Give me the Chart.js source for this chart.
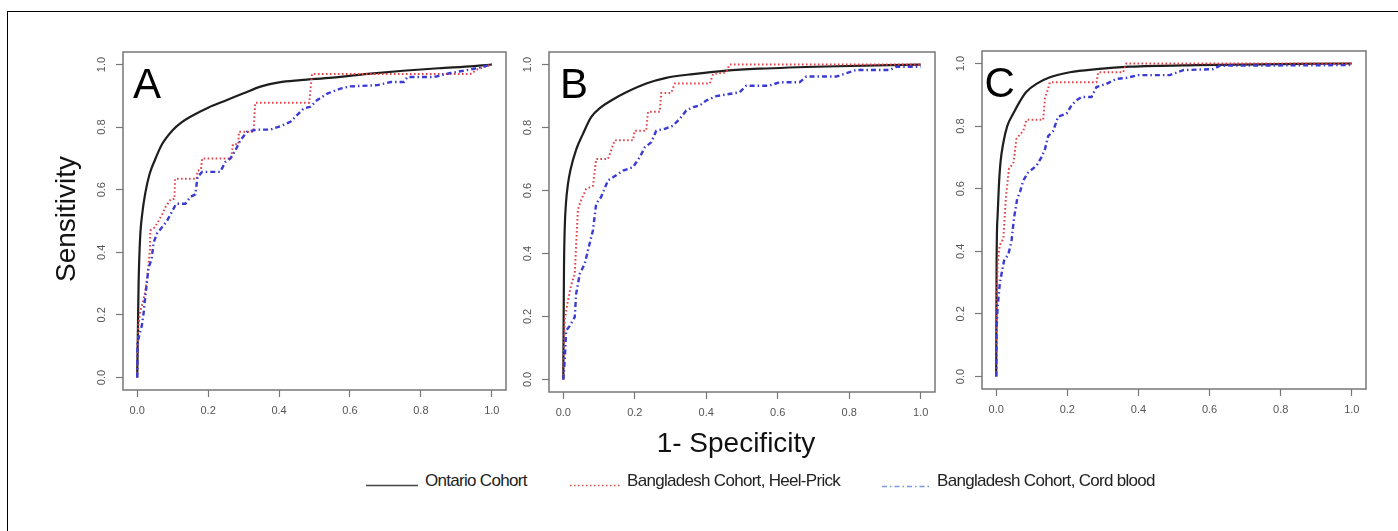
<!DOCTYPE html>
<html>
<head>
<meta charset="utf-8">
<script src="https://cdn.jsdelivr.net/npm/chart.js@4.4.1/dist/chart.umd.min.js"></script>
<style>
  body { margin: 0; background: #fff; font-family: 'Liberation Sans', Arial, sans-serif; }
  #wrap { position: relative; width: 1398px; height: 531px; overflow: hidden; }
  #frame { position: absolute; left: 7px; top: 11px; width: 1500px; height: 600px;
           border-top: 1.5px solid #000; border-left: 1.5px solid #000; }
  canvas { position: absolute; }
  .axt { position: absolute; font-size: 28px; line-height: 28px; color: #111; white-space: nowrap; }
  .leg { position: absolute; top: 472px; font-size: 17px; line-height: 17px; letter-spacing: -0.7px;
         color: #222; white-space: nowrap; }
  svg.ls { position: absolute; top: 480px; }
</style>
</head>
<body>
<div id="wrap">
  <div id="frame"></div>
  <canvas id="panelA"></canvas>
  <canvas id="panelB"></canvas>
  <canvas id="panelC"></canvas>

  <div class="axt" style="left:66px; top:219px; transform: translate(-50%,-50%) rotate(-90deg);">Sensitivity</div>
  <div class="axt" style="left:736px; top:429px; transform: translateX(-50%);">1- Specificity</div>

  <svg class="ls" style="left:366px" width="54" height="12"><line x1="0" y1="5.5" x2="52" y2="5.5" stroke="#444" stroke-width="1.6"/></svg>
  <div class="leg" style="left:425px">Ontario Cohort</div>
  <svg class="ls" style="left:570px" width="54" height="12"><line x1="0" y1="5.5" x2="52" y2="5.5" stroke="#d9534f" stroke-width="1.6" stroke-dasharray="1.5 2.5"/></svg>
  <div class="leg" style="left:627px">Bangladesh Cohort, Heel-Prick</div>
  <svg class="ls" style="left:882px" width="54" height="12"><line x1="0" y1="6.5" x2="50" y2="6.5" stroke="#7d96d8" stroke-width="1.4" stroke-dasharray="5 3 1.5 3"/></svg>
  <div class="leg" style="left:937px">Bangladesh Cohort, Cord blood</div>
</div>

<script>
// tick labels shared by all three panels
const tickVals = [0, 0.2, 0.4, 0.6, 0.8, 1.0];
const seriesNames = ['Ontario Cohort', 'Bangladesh Cohort, Heel-Prick', 'Bangladesh Cohort, Cord blood'];

// Panel A  [1-specificity, sensitivity]
const ontarioA = [[0,0],[0.002,0.15],[0.004,0.3],[0.008,0.44],[0.015,0.53],[0.023,0.59],[0.035,0.65],[0.05,0.695],
  [0.07,0.745],[0.1,0.79],[0.125,0.815],[0.15,0.833],[0.2,0.862],[0.25,0.885],[0.3,0.908],[0.35,0.93],[0.4,0.943],
  [0.46,0.95],[0.55,0.958],[0.65,0.97],[0.75,0.98],[0.85,0.988],[0.95,0.995],[1,1]];
const heelA = [[0,0],[0.003,0.16],[0.008,0.21],[0.016,0.24],[0.022,0.27],[0.027,0.31],[0.032,0.36],[0.036,0.41],
  [0.037,0.47],[0.05,0.48],[0.06,0.50],[0.07,0.52],[0.08,0.545],[0.095,0.57],[0.105,0.57],[0.107,0.635],[0.168,0.635],
  [0.17,0.66],[0.18,0.665],[0.183,0.70],[0.265,0.70],[0.27,0.745],[0.285,0.745],[0.287,0.785],[0.328,0.785],
  [0.333,0.878],[0.485,0.878],[0.493,0.97],[0.94,0.97],[0.96,0.985],[1,1]];
const cordA = [[0,0],[0.001,0.11],[0.007,0.14],[0.013,0.165],[0.018,0.205],[0.023,0.26],[0.027,0.30],[0.032,0.35],
  [0.041,0.38],[0.046,0.43],[0.056,0.46],[0.07,0.48],[0.084,0.50],[0.098,0.53],[0.11,0.555],[0.136,0.555],[0.15,0.577],
  [0.164,0.585],[0.17,0.64],[0.183,0.657],[0.234,0.657],[0.249,0.689],[0.263,0.70],[0.277,0.726],[0.291,0.758],
  [0.31,0.785],[0.338,0.792],[0.376,0.792],[0.404,0.803],[0.432,0.817],[0.47,0.86],[0.489,0.865],[0.507,0.886],
  [0.536,0.907],[0.573,0.923],[0.60,0.93],[0.677,0.934],[0.715,0.944],[0.752,0.944],[0.762,0.96],[0.837,0.96],
  [0.884,0.973],[0.94,0.984],[1,1]];

// Panel B
const ontarioB = [[0,0],[0.001,0.2],[0.002,0.36],[0.004,0.48],[0.0075,0.56],[0.013,0.62],[0.02,0.665],[0.036,0.73],
  [0.055,0.78],[0.078,0.833],[0.106,0.865],[0.134,0.886],[0.176,0.912],[0.232,0.94],[0.288,0.958],[0.363,0.97],
  [0.456,0.981],[0.55,0.987],[0.736,0.994],[1,1]];
const heelB = [[0,0],[0.004,0.19],[0.013,0.25],[0.022,0.30],[0.032,0.335],[0.036,0.43],[0.041,0.54],[0.05,0.57],
  [0.064,0.605],[0.083,0.615],[0.092,0.70],[0.125,0.70],[0.144,0.76],[0.195,0.76],[0.2,0.79],[0.232,0.79],
  [0.237,0.85],[0.27,0.85],[0.274,0.91],[0.302,0.91],[0.312,0.94],[0.41,0.94],[0.419,0.97],[0.456,0.975],
  [0.465,1],[1,1]];
const cordB = [[0,0],[0.004,0.06],[0.008,0.155],[0.018,0.17],[0.032,0.198],[0.036,0.272],[0.046,0.335],[0.06,0.367],
  [0.069,0.41],[0.083,0.474],[0.092,0.558],[0.106,0.58],[0.125,0.632],[0.139,0.642],[0.167,0.663],[0.195,0.674],
  [0.214,0.706],[0.228,0.737],[0.246,0.753],[0.26,0.79],[0.284,0.796],[0.307,0.806],[0.326,0.828],[0.344,0.854],
  [0.363,0.865],[0.382,0.87],[0.4,0.886],[0.428,0.9],[0.456,0.905],[0.493,0.912],[0.512,0.933],[0.577,0.933],
  [0.605,0.944],[0.661,0.944],[0.68,0.962],[0.764,0.962],[0.801,0.976],[0.82,0.983],[0.913,0.983],[0.932,0.993],
  [1,0.993]];

// Panel C
const ontarioC = [[0,0],[0.001,0.36],[0.004,0.516],[0.0075,0.61],[0.012,0.684],[0.02,0.747],[0.031,0.80],[0.048,0.84],
  [0.067,0.88],[0.085,0.91],[0.113,0.935],[0.151,0.956],[0.207,0.972],[0.282,0.982],[0.376,0.99],[0.563,0.995],[1,1]];
const heelC = [[0,0],[0.001,0.2],[0.004,0.36],[0.01,0.42],[0.02,0.44],[0.027,0.57],[0.036,0.665],[0.048,0.68],
  [0.057,0.76],[0.076,0.785],[0.085,0.82],[0.132,0.82],[0.137,0.89],[0.146,0.92],[0.151,0.94],[0.282,0.94],
  [0.287,0.972],[0.357,0.972],[0.366,1],[1,1]];
const cordC = [[0,0],[0.001,0.15],[0.004,0.223],[0.01,0.296],[0.015,0.328],[0.022,0.37],[0.034,0.39],[0.043,0.432],
  [0.05,0.506],[0.059,0.568],[0.067,0.59],[0.076,0.626],[0.09,0.652],[0.113,0.673],[0.127,0.70],[0.137,0.726],
  [0.146,0.768],[0.16,0.784],[0.174,0.83],[0.198,0.84],[0.212,0.867],[0.226,0.883],[0.24,0.893],[0.268,0.893],
  [0.282,0.925],[0.31,0.935],[0.338,0.951],[0.366,0.954],[0.4,0.963],[0.488,0.963],[0.526,0.979],[0.61,0.982],
  [0.629,0.993],[1,0.995]];

Chart.defaults.font.family = "'Liberation Sans', Arial, sans-serif";

// box round the plot area + panel letter
const boxPlugin = {
  id: 'rbox',
  afterDraw(chart, args, opts) {
    const { ctx, chartArea: a } = chart;
    ctx.save();
    ctx.strokeStyle = '#777';
    ctx.lineWidth = 1.5;
    ctx.strokeRect(a.left, a.top, a.right - a.left, a.bottom - a.top);
    ctx.fillStyle = '#000';
    ctx.font = "42px 'Liberation Sans', Arial, sans-serif";
    ctx.textBaseline = 'alphabetic';
    ctx.fillText(opts.letter, a.left + opts.dx, a.top + 46);
    ctx.restore();
  },
};

function axisOpts(isY) {
  return {
    type: 'linear',
    min: -0.04,
    max: 1.04,
    afterBuildTicks: (s) => { s.ticks = tickVals.map((v) => ({ value: v })); },
    afterFit: (s) => { if (isY) s.width = 45; else s.height = 32; },
    border: { display: false },
    grid: { drawOnChartArea: false, drawTicks: true, tickLength: 7, tickColor: '#777', tickWidth: 1.2 },
    ticks: isY
      ? { minRotation: 90, maxRotation: 90, crossAlign: 'center', padding: 6, color: '#555',
          font: { size: 11 }, callback: (v) => v.toFixed(1) }
      : { maxRotation: 0, autoSkip: false, padding: 7, color: '#555',
          font: { size: 11 }, callback: (v) => v.toFixed(1) },
  };
}

function makePanel(id, box, letter, dx, ontario, heel, cord) {
  const cv = document.getElementById(id);
  const padTop = 16, padRight = 8, yW = 45, xH = 32;
  cv.width = (box.r - box.l) + yW + padRight;
  cv.height = (box.b - box.t) + padTop + xH;
  cv.style.left = (box.l - yW) + 'px';
  cv.style.top = (box.t - padTop) + 'px';
  const toXY = (arr) => arr.map((p) => ({ x: p[0], y: p[1] }));
  new Chart(cv.getContext('2d'), {
    type: 'line',
    data: {
      datasets: [
        { label: seriesNames[2], data: toXY(cord), borderColor: '#3b3bd4', borderWidth: 2.4,
          borderDash: [5, 3, 1.5, 3], pointRadius: 0, tension: 0 },
        { label: seriesNames[1], data: toXY(heel), borderColor: '#e2434a', borderWidth: 2,
          borderDash: [1.6, 2.4], pointRadius: 0, tension: 0 },
        // smooth curve for the large cohort
        { label: seriesNames[0], data: toXY(ontario), borderColor: '#1e1e1e', borderWidth: 2.2,
          pointRadius: 0, cubicInterpolationMode: 'monotone' },
      ],
    },
    options: {
      responsive: false,
      animation: false,
      layout: { padding: { left: 0, top: padTop, right: padRight, bottom: 0 } },
      plugins: {
        legend: { display: false },
        tooltip: { enabled: false },
        rbox: { letter, dx },
      },
      scales: { x: axisOpts(false), y: axisOpts(true) },
    },
    plugins: [boxPlugin],
  });
}

makePanel('panelA', { l: 123, t: 52, r: 506, b: 390 }, 'A', 10, ontarioA, heelA, cordA);
makePanel('panelB', { l: 549, t: 52, r: 935, b: 392 }, 'B', 11, ontarioB, heelB, cordB);
makePanel('panelC', { l: 982, t: 51, r: 1366, b: 389 }, 'C', 2.5, ontarioC, heelC, cordC);
</script>
</body>
</html>
